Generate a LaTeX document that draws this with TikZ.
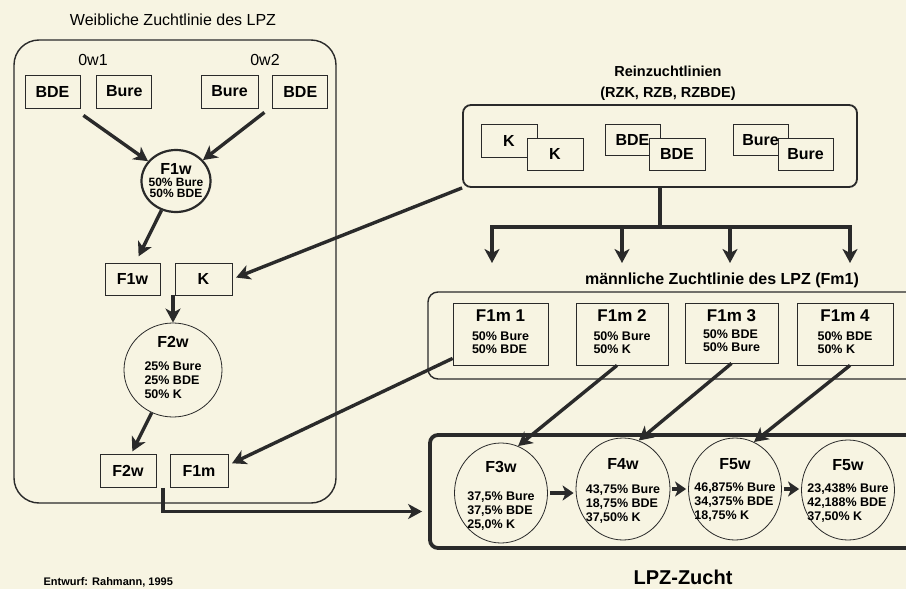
\documentclass[tikz,border=0pt]{standalone}
\usepackage{fontspec}
\setmainfont{Liberation Sans}
\usetikzlibrary{arrows.meta,positioning,shapes.geometric,calc}
\definecolor{papier}{HTML}{F7F4E2}
\definecolor{tinte}{HTML}{2A2A2A}
\newcommand{\fs}[2]{\fontsize{#1}{#2}\selectfont}
\newcommand{\kopf}[1]{{\fs{16}{18}\bfseries #1}}
\newcommand{\anteile}[1]{\begin{tabular}[t]{@{}l@{}}#1\end{tabular}}

\begin{document}
\begin{tikzpicture}[x=1pt,y=-1pt,
  box/.style={draw=tinte,fill=papier,line width=0.8pt,minimum width=55pt,minimum height=33pt,inner sep=0pt,font=\fs{16}{18}\bfseries},
  mbox/.style={draw=tinte,fill=papier,line width=0.8pt,minimum height=62pt,inner sep=0pt,align=center,font=\fs{12.5}{13}\bfseries},
  kreis/.style={ellipse,draw=tinte,line width=0.8pt,inner sep=0pt},
  inhalt/.style={align=center,inner sep=0pt,font=\fs{12.5}{14}\bfseries},
  rahmen/.style={draw=tinte,line width=1.4pt,inner sep=0pt},
  pfeil/.style={->,draw=tinte,line width=3.4pt},
  kpfeil/.style={-{Stealth[length=11pt,width=15pt,inset=3pt]},draw=tinte,line width=4pt,shorten <=2pt,shorten >=2pt},
  linie/.style={draw=tinte,line width=3.6pt,line cap=rect},
  >={Stealth[length=14pt,width=15pt,inset=4pt]}]
\clip (0,0) rectangle (906,589);
\fill[papier] (0,0) rectangle (906,589);

% weibliche Zuchtlinie
\node[font=\fs{16}{19}] (titelw) at (173,20) {Weibliche Zuchtlinie des LPZ};
\node[rahmen,rounded corners=25pt,minimum width=322pt,minimum height=463pt] (weib) at (175,271.5) {};
\node[font=\fs{16}{19}] (ow1) at (93,60) {0w1};
\node[font=\fs{16}{19}] (ow2) at (265,60) {0w2};
\node[box] (bde1) at (52.5,91.5) {BDE};
\node[box,right=16pt of bde1] (bure1) {Bure};
\node[box,minimum width=57pt] (bure2) at (229.5,91.5) {Bure};
\node[box,right=14pt of bure2] (bde2) {BDE};
\node[kreis,line width=2.2pt,minimum width=69pt,minimum height=62pt,
  label={[inhalt,font=\fs{12}{14}\bfseries]center:{\kopf{F1w}\\[-2pt]50\% Bure\\[-3pt]50\% BDE}}] (f1w) at (176,181) {};
\node[box,minimum height=32pt] (f1wb) at (132.5,279) {F1w};
\node[box,minimum width=57pt,minimum height=32pt] (kb) at (203.5,279) {K};
\node[kreis,minimum width=98pt,minimum height=94pt,
  label={[inhalt]center:{\kopf{F2w}\\[9pt]\anteile{25\% Bure\\25\% BDE\\50\% K}}}] (f2w) at (173,370) {};
\node[box,minimum width=56pt] (f2wb) at (128,471) {F2w};
\node[box,minimum width=58pt] (f1mb) at (199,471) {F1m};

% Reinzuchtlinien
\node[font=\fs{14.5}{21}\bfseries,align=center] (titelr) at (668,83) {Reinzuchtlinien\\(RZK, RZB, RZBDE)};
\node[rahmen,line width=1.8pt,rounded corners=8pt,minimum width=394pt,minimum height=82pt] (rz) at (660,146) {};
\node[box,minimum width=56pt] (kh) at (509,140.5) {K};
\node[box,minimum width=56pt,minimum height=32pt] (kv) at (555,154) {K};
\node[box,minimum height=31pt] (bdeh) at (632.5,140) {BDE};
\node[box,minimum width=56pt,minimum height=32pt] (bdev) at (677,154) {BDE};
\node[box,minimum height=31pt] (bureh) at (760.5,140) {Bure};
\node[box,minimum height=32pt] (burev) at (805.5,154) {Bure};
\coordinate (vt) at (660,227);
\coordinate (vl) at (492,227);
\coordinate (vr) at (850,227);
\draw[linie] (rz.south) -- (vt);
\draw[linie] (vl) -- (vr);
\foreach \x [count=\i] in {492,622,730,850} {
  \coordinate (z\i) at (\x,263);
  \draw[pfeil] (z\i |- vt) -- (z\i);
}

% maennliche Zuchtlinie
\node[font=\fs{16}{19}\bfseries] (titelm) at (722,280) {männliche Zuchtlinie des LPZ (Fm1)};
\node[rahmen,rounded corners=10pt,minimum width=502pt,minimum height=87pt] (fm1) at (679,335.5) {};
\node[mbox,minimum width=95pt] (m1) at (500.5,334) {{\fs{17}{19}F1m 1}\\[6pt]\anteile{50\% Bure\\50\% BDE}};
\node[mbox,minimum width=92pt] (m2) at (622,334) {{\fs{17}{19}F1m 2}\\[6pt]\anteile{50\% Bure\\50\% K}};
\node[mbox,minimum width=93pt,minimum height=60pt] (m3) at (731.5,333) {{\fs{17}{19}F1m 3}\\[4pt]\anteile{50\% BDE\\50\% Bure}};
\node[mbox,minimum width=96pt] (m4) at (845,334) {{\fs{17}{19}F1m 4}\\[6pt]\anteile{50\% BDE\\50\% K}};

% LPZ-Zucht
\node[rahmen,line width=3.8pt,rounded corners=8pt,minimum width=505pt,minimum height=113pt] (lpz) at (682.5,491.5) {};
\node[kreis,minimum width=93pt,minimum height=100pt,
  label={[inhalt,yshift=-4pt]center:{\kopf{F3w}\\[14pt]\anteile{37,5\% Bure\\37,5\% BDE\\25,0\% K}}}] (f3w) at (501,493) {};
\node[kreis,minimum width=94pt,minimum height=102pt,
  label={[inhalt,yshift=-3pt]center:{\kopf{F4w}\\[10pt]\anteile{43,75\% Bure\\18,75\% BDE\\37,50\% K}}}] (f4w) at (623,489) {};
\node[kreis,minimum width=93pt,minimum height=102pt,
  label={[inhalt,yshift=-2pt]center:{\kopf{F5w}\\[8pt]\anteile{46,875\% Bure\\34,375\% BDE\\18,75\% K}}}] (f5w) at (735,489) {};
\node[kreis,minimum width=93pt,minimum height=100pt,
  label={[inhalt,yshift=-2pt]center:{\kopf{F5w}\\[8pt]\anteile{23,438\% Bure\\42,188\% BDE\\37,50\% K}}}] (f5wb) at (848,490) {};
\node[font=\fs{20}{24}\bfseries] (titellpz) at (683,577) {LPZ-Zucht};
\node[font=\fs{11}{13}\bfseries,anchor=base west] (entwurf) at (40,585) {Entwurf: Rahmann, 1995};

% Pfeile
\draw[pfeil] ([shift={(3,7)}]bde1.south east) -- (f1w);
\draw[pfeil] ([shift={(6,4)}]bure2.south east) -- (f1w);
\draw[pfeil,shorten >=7pt] (f1w) -- ([xshift=3pt]f1wb.north);
\draw[pfeil,shorten >=4pt] (rz.south west) -- (kb.east);
\draw[pfeil] (f2w.north |- kb.south) -- (f2w.north);
\draw[pfeil,shorten >=3pt] (f2w) -- ([xshift=3pt]f2wb.north);
\draw[pfeil,shorten >=4pt] ([yshift=7pt]m1.south west) -- ([yshift=6pt]f1mb.east);
\coordinate (ab) at ($(f2wb.south east)!.5!(f1mb.south west)$);
\draw[pfeil,shorten >=6pt] (ab) |- ([yshift=-20pt]lpz.west);
\draw[pfeil] ([xshift=-5pt]m2.south) -- (f3w.70);
\draw[pfeil] (m3.south) -- (f4w.72);
\draw[pfeil] ([xshift=5pt]m4.south) -- (f5w.68);
\draw[kpfeil] (f3w.east) -- (f3w.east -| f4w.west);
\draw[kpfeil] (f4w.east) -- (f4w.east -| f5w.west);
\draw[kpfeil] (f5w.east) -- (f5w.east -| f5wb.west);
\end{tikzpicture}
\end{document}
